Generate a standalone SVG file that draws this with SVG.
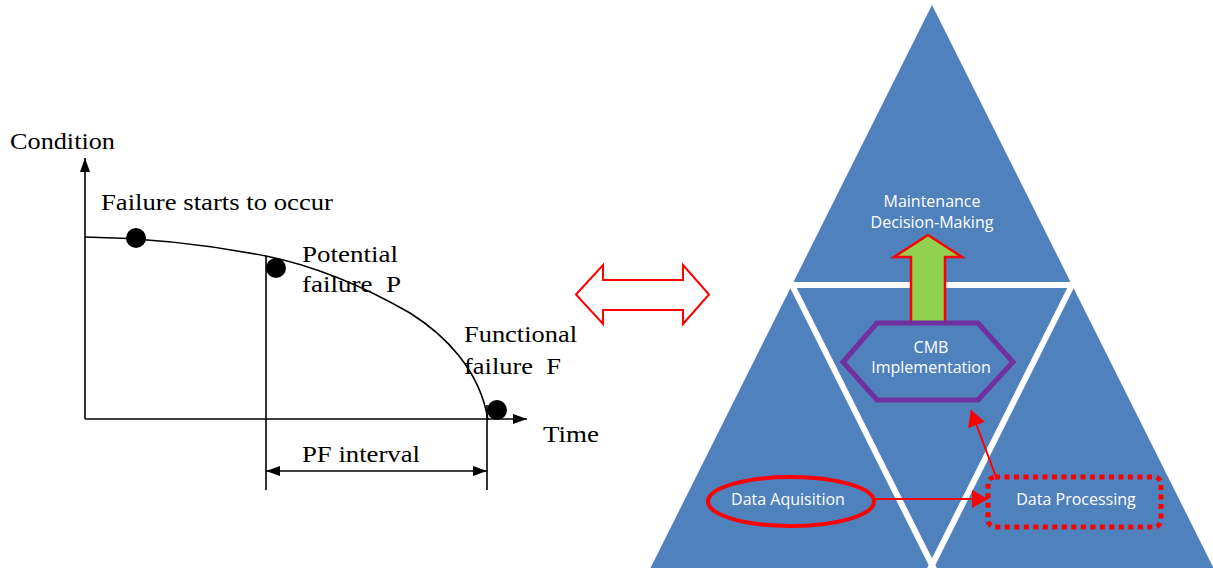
<svg xmlns="http://www.w3.org/2000/svg" width="1213" height="568" viewBox="0 0 1213 568">
<style>
.ser{font-family:"Liberation Serif","Times New Roman",serif;font-size:23px;fill:#000}
.ax{stroke:#000;stroke-width:1.6;fill:none}
.wt{font-family:"Open Sans","Noto Sans",sans-serif;font-size:16px;fill:#fff;text-anchor:middle}
.gap{stroke:#fff;stroke-width:6;fill:none}
.red{stroke:#ff0000;stroke-width:2;fill:none}
</style>
<defs>
<marker id="bk" viewBox="0 0 14 10" refX="14" refY="5" markerWidth="14" markerHeight="10" markerUnits="userSpaceOnUse" orient="auto-start-reverse"><path d="M0,0 L14,5 L0,10 z" fill="#000"/></marker>
<marker id="ra" viewBox="0 0 16 18" refX="16" refY="9" markerWidth="16" markerHeight="18" markerUnits="userSpaceOnUse" orient="auto"><path d="M0,0 L16,9 L0,18 z" fill="#ff0000"/></marker>
</defs>
<rect width="1213" height="568" fill="#fff"/>

<g id="chart">
<line class="ax" x1="85" y1="419" x2="85" y2="158" marker-end="url(#bk)"/>
<line class="ax" x1="85" y1="419" x2="527" y2="419" marker-end="url(#bk)"/>
<line class="ax" x1="266" y1="256" x2="266" y2="490"/>
<line class="ax" x1="487" y1="405" x2="487" y2="490"/>
<path class="ax" d="M85,237 C150,238 210,245 266,256 C320,267 370,290 410,313 C445,335 480,370 488,420"/>
<circle cx="136" cy="238" r="10"/>
<circle cx="276" cy="268" r="10"/>
<circle cx="497" cy="410" r="10"/>
<text class="ser" x="10" y="149" textLength="105" lengthAdjust="spacingAndGlyphs">Condition</text>
<text class="ser" x="101" y="210" textLength="232" lengthAdjust="spacingAndGlyphs">Failure starts to occur</text>
<text class="ser" x="302" y="262" textLength="96" lengthAdjust="spacingAndGlyphs">Potential</text>
<text class="ser" x="302" y="292" textLength="99" lengthAdjust="spacingAndGlyphs" xml:space="preserve">failure  P</text>
<text class="ser" x="464" y="342" textLength="113" lengthAdjust="spacingAndGlyphs">Functional</text>
<text class="ser" x="464" y="374" textLength="97" lengthAdjust="spacingAndGlyphs" xml:space="preserve">failure  F</text>
<text class="ser" x="543" y="442" textLength="56" lengthAdjust="spacingAndGlyphs">Time</text>
<text class="ser" x="302" y="462" textLength="118" lengthAdjust="spacingAndGlyphs">PF interval</text>
<line class="ax" x1="266" y1="471" x2="487" y2="471" marker-start="url(#bk)" marker-end="url(#bk)"/>
</g>

<g id="double-arrow">
<polygon points="576,294.5 603,265 603,280 683,280 683,265 709,294.5 683,324 683,310 603,310 603,324" fill="#fff" stroke="#ff0000" stroke-width="2"/>
</g>

<g id="pyramid">
<polygon points="932,5 1213.5,568 650.5,568" fill="#4F81BD"/>
<line class="gap" x1="775" y1="285" x2="1090" y2="285"/>
<line class="gap" x1="787" y1="275" x2="935.5" y2="572"/>
<line class="gap" x1="1077" y1="275" x2="928.5" y2="572"/>
</g>

<g id="maintenance">
<text class="wt" x="932" y="207">Maintenance</text>
<text class="wt" x="932" y="228">Decision-Making</text>
</g>

<g id="green-arrow">
<polygon points="928,235 962,257 945,257 945,324 911,324 911,257 894,257" fill="#92D050" stroke="#ff0000" stroke-width="2.5" stroke-linejoin="miter"/>
</g>

<g id="cmb">
<polygon points="877,323 978,323 1013,362 978,400 877,400 843,362" fill="#4F81BD" stroke="#7030A0" stroke-width="5"/>
<text class="wt" x="931" y="353">CMB</text>
<text class="wt" x="931" y="373">Implementation</text>
</g>

<g id="acquisition">
<ellipse cx="791" cy="501.5" rx="83" ry="24.5" fill="none" stroke="#ff0000" stroke-width="4"/>
<text class="wt" x="788" y="505">Data Aquisition</text>
</g>

<g id="processing">
<rect x="988" y="477" width="173" height="50" rx="7" fill="none" stroke="#ff0000" stroke-width="5" stroke-dasharray="5 4.5"/>
<text class="wt" x="1076" y="505">Data Processing</text>
</g>

<g id="connectors">
<line class="red" x1="874" y1="499" x2="988" y2="499" marker-end="url(#ra)"/>
<line class="red" x1="996" y1="477" x2="971" y2="410" marker-end="url(#ra)"/>
</g>
</svg>
